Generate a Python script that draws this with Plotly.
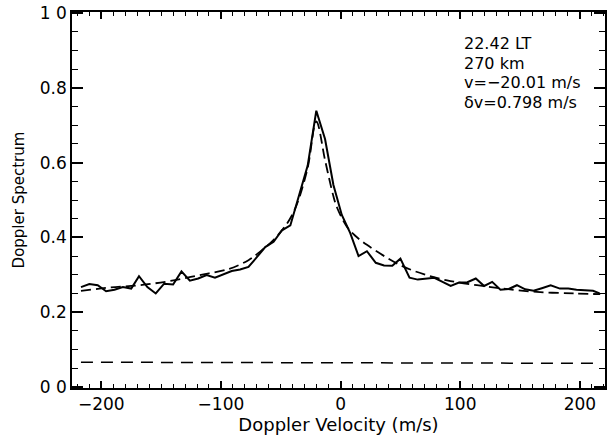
import plotly.graph_objects as go

# Measured Doppler spectrum (solid)
vel_obs = [-217, -210, -203, -196, -189, -182, -175, -168.5, -161.5, -154.5,
           -147.5, -140, -133, -126, -119, -112, -105, -98, -91, -84,
           -77, -70, -63, -56, -49, -42, -35, -27.5, -20.3, -13,
           -6, 1, 8, 15, 22, 29.4, 36.3, 43.2, 50, 57.6,
           64.5, 71.4, 78.4, 85.2, 92, 99, 106, 113, 120, 126.7,
           133.6, 140.5, 147.4, 154.3, 161.3, 168.2, 175.6, 183.3, 190.3, 197.2,
           204, 211, 216.5]
spec_obs = [0.267, 0.275, 0.272, 0.256, 0.260, 0.267, 0.263, 0.296, 0.267, 0.250,
            0.276, 0.274, 0.309, 0.284, 0.290, 0.299, 0.292, 0.301, 0.310, 0.314,
            0.321, 0.347, 0.374, 0.388, 0.419, 0.432, 0.512, 0.592, 0.739, 0.663,
            0.540, 0.460, 0.412, 0.350, 0.363, 0.332, 0.325, 0.324, 0.343, 0.292,
            0.287, 0.290, 0.292, 0.281, 0.270, 0.279, 0.280, 0.290, 0.270, 0.281,
            0.260, 0.262, 0.272, 0.261, 0.257, 0.264, 0.272, 0.263, 0.263, 0.260,
            0.259, 0.257, 0.250]

# Fitted spectrum (dashed)
vel_fit = [-217, -192, -168, -143, -118, -93, -77, -68, -54, -40,
           -28, -20.3, -12.9, -6, -3, 5, 12, 22, 37, 53,
           70, 89, 114, 136, 164, 195, 217]
spec_fit = [0.257, 0.266, 0.272, 0.283, 0.299, 0.316, 0.339, 0.360, 0.400, 0.463,
            0.579, 0.710, 0.605, 0.510, 0.480, 0.430, 0.405, 0.380, 0.349, 0.321,
            0.301, 0.285, 0.272, 0.263, 0.254, 0.250, 0.248]

# Noise level (dashed, bottom)
vel_noise = [-217, 217]
spec_noise = [0.066, 0.063]

ytick_vals = [0.0, 0.2, 0.4, 0.6, 0.8, 1.0]
ytick_text = ["0 0", "0.2", "0.4", "0.6", "0.8", "1 0"]
xtick_vals = [-200, -100, 0, 100, 200]
xtick_text = ["\u2212200", "\u2212100", "0", "100", "200"]

info_lines = ["22.42 LT", "270 km", "v=\u221220.01 m/s", "\u03b4v=0.798 m/s"]

FONT = "DejaVu Sans"

L, R, T, B = 72, 3, 11, 58
W, H = 610, 446
pw, ph = W - L - R, H - T - B

fig = go.Figure()
fig.add_trace(go.Scatter(x=vel_obs, y=spec_obs, mode="lines",
                         line=dict(color="black", width=2)))
fig.add_trace(go.Scatter(x=vel_fit, y=spec_fit, mode="lines", line_shape="spline",
                         line=dict(color="black", width=1.8, dash="10px,5px")))
fig.add_trace(go.Scatter(x=vel_noise, y=spec_noise, mode="lines",
                         line=dict(color="black", width=1.5, dash="12px,8px")))

for i, t in enumerate(info_lines):
    px, py = 463, 43 + 19.5 * i
    fig.add_annotation(x=(px - L) / pw, y=1 - (py - T) / ph,
                       xref="x domain", yref="y domain",
                       text=t, showarrow=False, xanchor="left", yanchor="middle",
                       font=dict(family=FONT, size=16, color="black"))

fig.update_layout(
    width=W, height=H,
    margin=dict(l=L, r=R, t=T, b=B, pad=0),
    paper_bgcolor="white", plot_bgcolor="white",
    showlegend=False,
    font=dict(family=FONT, size=17, color="black"),
    xaxis=dict(range=[-224.5, 221], showline=True, linecolor="black", linewidth=1.5,
               mirror="ticks", ticks="inside", ticklen=7, tickwidth=1.5, tickcolor="black",
               tickvals=xtick_vals, ticktext=xtick_text, showgrid=False, zeroline=False,
               layer="above traces",
               minor=dict(dtick=10, ticks="inside", ticklen=4, tickwidth=1.3,
                          tickcolor="black", showgrid=False),
               title=dict(text="Doppler Velocity (m/s)", standoff=4,
                          font=dict(family=FONT, size=18))),
    yaxis=dict(range=[-0.003, 1.003], showline=True, linecolor="black", linewidth=1.5,
               mirror="ticks", ticks="inside", ticklen=11, tickwidth=1.5, tickcolor="black",
               tickvals=ytick_vals, ticktext=ytick_text, showgrid=False, zeroline=False,
               layer="above traces",
               minor=dict(dtick=0.05, tick0=0, ticks="inside", ticklen=6, tickwidth=1.3,
                          tickcolor="black", showgrid=False),
               title=dict(text="Doppler Spectrum", standoff=12,
                          font=dict(family=FONT, size=15))),
)

fig.write_html("out.html")
